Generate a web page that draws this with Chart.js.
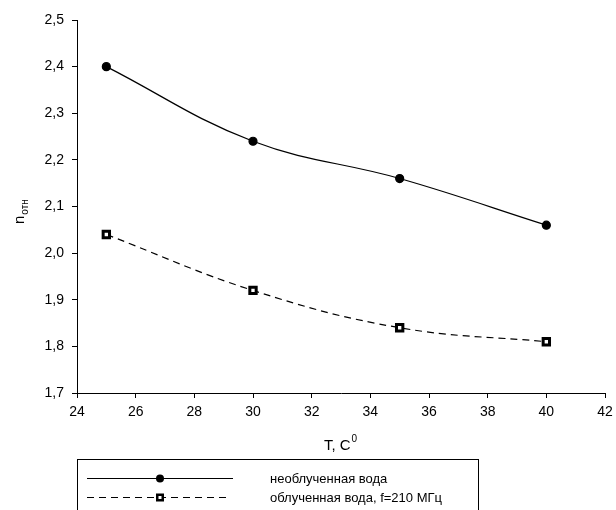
<!DOCTYPE html>
<html><head><meta charset="utf-8">
<script src="https://cdn.jsdelivr.net/npm/chart.js@4.4.1/dist/chart.umd.min.js"></script>
<style>html,body{margin:0;padding:0;background:#fff}#c{display:block}</style>
</head><body>
<canvas id="c" width="616" height="510"></canvas>
<script>
const temps = [25, 30, 35, 40];
const nonIrradiated = [2.40, 2.24, 2.16, 2.06];
const irradiated = [2.04, 1.92, 1.84, 1.81];
const seriesNames = ['необлученная вода', 'облученная вода, f=210 МГц'];
const xTitle = 'T, C';
const xTitleSup = '0';
const yTitle = 'n';
const yTitleSub = 'отн';

const FONT = '"Liberation Sans", Arial, sans-serif';

const decorPlugin = {
  id: 'decor',
  afterDraw(chart) {
    const ctx = chart.ctx;
    ctx.save();
    ctx.fillStyle = '#000';
    // x title
    ctx.textBaseline = 'alphabetic';
    ctx.textAlign = 'left';
    ctx.font = '15px ' + FONT;
    const w1 = ctx.measureText(xTitle).width;
    ctx.font = '10px ' + FONT;
    const w2 = ctx.measureText(xTitleSup).width;
    const x0 = 340 - (w1 + w2) / 2;
    ctx.font = '15px ' + FONT;
    ctx.fillText(xTitle, x0, 450);
    ctx.font = '10px ' + FONT;
    ctx.fillText(xTitleSup, x0 + w1 + 1, 442);
    // y title rotated
    ctx.save();
    ctx.translate(20, 218);
    ctx.rotate(-Math.PI / 2);
    ctx.font = '15px ' + FONT;
    const wn = ctx.measureText(yTitle).width;
    ctx.fillText(yTitle, -6, 4);
    ctx.font = '10px ' + FONT;
    ctx.fillText(yTitleSub, -6 + wn + 1, 8);
    ctx.restore();
    // legend box
    ctx.strokeStyle = '#000';
    ctx.lineWidth = 1;
    ctx.strokeRect(77.5, 459.5, 401, 60);
    // legend entry 1
    ctx.beginPath();
    ctx.moveTo(87, 478.5); ctx.lineTo(233, 478.5);
    ctx.lineWidth = 1.2; ctx.stroke();
    ctx.beginPath(); ctx.arc(160, 478.5, 4, 0, Math.PI * 2); ctx.fill();
    // legend entry 2
    ctx.setLineDash([7, 5]);
    ctx.beginPath();
    ctx.moveTo(87, 497.5); ctx.lineTo(226, 497.5);
    ctx.stroke();
    ctx.setLineDash([]);
    ctx.fillStyle = '#000';
    ctx.fillRect(156, 493.5, 8, 8);
    ctx.fillStyle = '#fff';
    ctx.fillRect(158.5, 496, 3, 3);
    ctx.fillStyle = '#000';
    ctx.font = '13px ' + FONT;
    ctx.textBaseline = 'middle';
    ctx.fillText(seriesNames[0], 270, 479);
    ctx.fillText(seriesNames[1], 270, 498);
    ctx.restore();
  }
};

new Chart(document.getElementById('c'), {
  type: 'line',
  data: {
    datasets: [
      {
        label: seriesNames[0],
        data: temps.map((t, i) => ({x: t, y: nonIrradiated[i]})),
        borderColor: '#000', borderWidth: 1.2,
        pointRadius: 4, pointBackgroundColor: '#000', pointBorderColor: '#000',
        pointStyle: 'circle', tension: 0.4, fill: false
      },
      {
        label: seriesNames[1],
        data: temps.map((t, i) => ({x: t, y: irradiated[i]})),
        borderColor: '#000', borderWidth: 1.2, borderDash: [7, 5],
        pointRadius: 4.5, pointBackgroundColor: '#fff', pointBorderColor: '#000', pointBorderWidth: 3,
        pointStyle: 'rect', tension: 0.4, fill: false
      }
    ]
  },
  options: {
    responsive: false,
    animation: false,
    layout: {padding: {top: 20, right: 11, left: 0, bottom: 0}},
    plugins: {legend: {display: false}, tooltip: {enabled: false}},
    scales: {
      x: {
        type: 'linear', min: 24, max: 42,
        ticks: {stepSize: 2, color: '#000', font: {family: FONT, size: 14}, padding: 6, maxRotation: 0},
        grid: {display: true, drawOnChartArea: false, tickLength: 5, color: '#000'},
        border: {display: true, color: '#000', width: 1},
        afterFit(s) { s.height = 117; s.paddingLeft = 0; s.paddingRight = 0; }
      },
      y: {
        type: 'linear', min: 1.7, max: 2.5,
        ticks: {stepSize: 0.1, color: '#000', font: {family: FONT, size: 14}, padding: 8,
          callback: v => v.toFixed(1).replace('.', ',')},
        grid: {display: true, drawOnChartArea: false, tickLength: 5, color: '#000'},
        border: {display: true, color: '#000', width: 1},
        afterFit(s) { s.width = 77; s.paddingTop = 0; s.paddingBottom = 0; }
      }
    }
  },
  plugins: [decorPlugin]
});
</script>
</body></html>
